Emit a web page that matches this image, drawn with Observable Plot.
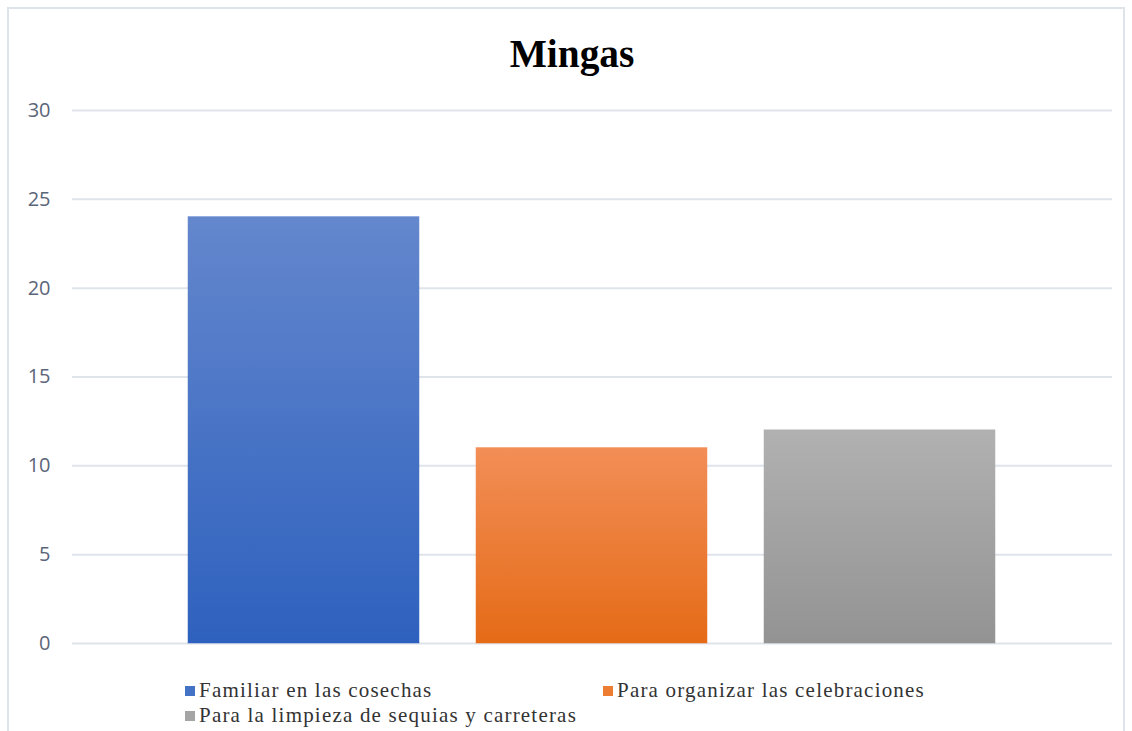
<!DOCTYPE html>
<html>
<head>
<meta charset="utf-8">
<script src="https://cdn.jsdelivr.net/npm/d3@7"></script>
<script src="https://cdn.jsdelivr.net/npm/@observablehq/plot@0.6"></script>
<style>
  html, body { margin: 0; padding: 0; background: #fff; }
  #wrap { position: relative; width: 1132px; height: 731px; overflow: hidden; background: #fff; }
  #frame { position: absolute; left: 7px; top: 7px; width: 1118px; height: 740px; border: 2px solid #dfe3ea; box-sizing: border-box; }
  #title { position: absolute; left: 6px; top: 28px; width: 1132px; text-align: center; font-family: "Liberation Serif", "Times New Roman", serif; font-weight: bold; font-size: 41px; line-height: 50px; color: #000; transform: scaleX(0.96); }
  #chart { position: absolute; left: 0; top: 90px; }
  #legend { position: absolute; left: 0; top: 678px; width: 1132px; font-family: "Liberation Serif", "Times New Roman", serif; font-size: 21px; letter-spacing: 1.2px; color: #333; }
  .item { position: absolute; white-space: nowrap; line-height: 24px; }
  .sw { display: inline-block; width: 10px; height: 10px; margin-right: 4px; vertical-align: 1px; }
</style>
</head>
<body>
<div id="wrap">
  <div id="frame"></div>
  <div id="title"></div>
  <div id="chart"></div>
  <div id="legend"></div>
</div>
<script>
const title = "Mingas";
const categories = ["Familiar en las cosechas", "Para organizar las celebraciones", "Para la limpieza de sequias y carreteras"];
const values = [24, 11, 12];
const yTicks = [0, 5, 10, 15, 20, 25, 30];

const data = categories.map((c, i) => ({category: c, value: values[i]}));

const gradTop = ["#6487cd", "#f28e57", "#b1b1b1"];
const gradBottom = ["#2e61be", "#e56b17", "#939393"];
const gradIds = categories.map((c, i) => `grad${i}`);

document.getElementById("title").textContent = title;

function defs() {
  const svgNS = "http://www.w3.org/2000/svg";
  const d = document.createElementNS(svgNS, "defs");
  gradIds.forEach((id, i) => {
    const g = document.createElementNS(svgNS, "linearGradient");
    g.setAttribute("id", id);
    g.setAttribute("x1", "0"); g.setAttribute("y1", "0");
    g.setAttribute("x2", "0"); g.setAttribute("y2", "1");
    const s1 = document.createElementNS(svgNS, "stop");
    s1.setAttribute("offset", "0"); s1.setAttribute("stop-color", gradTop[i]);
    const s2 = document.createElementNS(svgNS, "stop");
    s2.setAttribute("offset", "1"); s2.setAttribute("stop-color", gradBottom[i]);
    g.appendChild(s1); g.appendChild(s2);
    d.appendChild(g);
  });
  return d;
}

const chart = Plot.plot({
  width: 1132,
  height: 570,
  marginLeft: 72,
  marginRight: 20,
  marginTop: 20,
  marginBottom: 17,
  style: {background: "transparent", overflow: "visible"},
  x: {domain: categories, insetLeft: 116, insetRight: 117, paddingInner: 0.198, paddingOuter: 0, axis: null},
  y: {domain: [0, 30], ticks: yTicks, label: null},
  color: {domain: categories, range: gradIds.map(id => `url(#${id})`)},
  marks: [
    defs,
    Plot.ruleY(yTicks, {stroke: "#dfe3ea", strokeWidth: 2}),
    Plot.barY(data, {x: "category", y: "value", fill: "category", stroke: "category", strokeOpacity: 0.5, strokeWidth: 1}),
    Plot.axisY({ticks: yTicks, tickSize: 0, tickPadding: 22, fontSize: 20, fill: "#5b6579", fontFamily: "'Open Sans', 'Liberation Sans', sans-serif", label: null})
  ]
});
document.getElementById("chart").appendChild(chart);

// Legend
const legendColors = ["#4472c4", "#ed7d31", "#a5a5a5"];
const legendPos = [[185, 0], [603, 0], [185, 25]];
const legend = document.getElementById("legend");
categories.forEach((c, i) => {
  const it = document.createElement("div");
  it.className = "item";
  it.style.left = legendPos[i][0] + "px";
  it.style.top = legendPos[i][1] + "px";
  const sw = document.createElement("span");
  sw.className = "sw";
  sw.style.background = legendColors[i];
  it.appendChild(sw);
  it.appendChild(document.createTextNode(c));
  legend.appendChild(it);
});
</script>
</body>
</html>
